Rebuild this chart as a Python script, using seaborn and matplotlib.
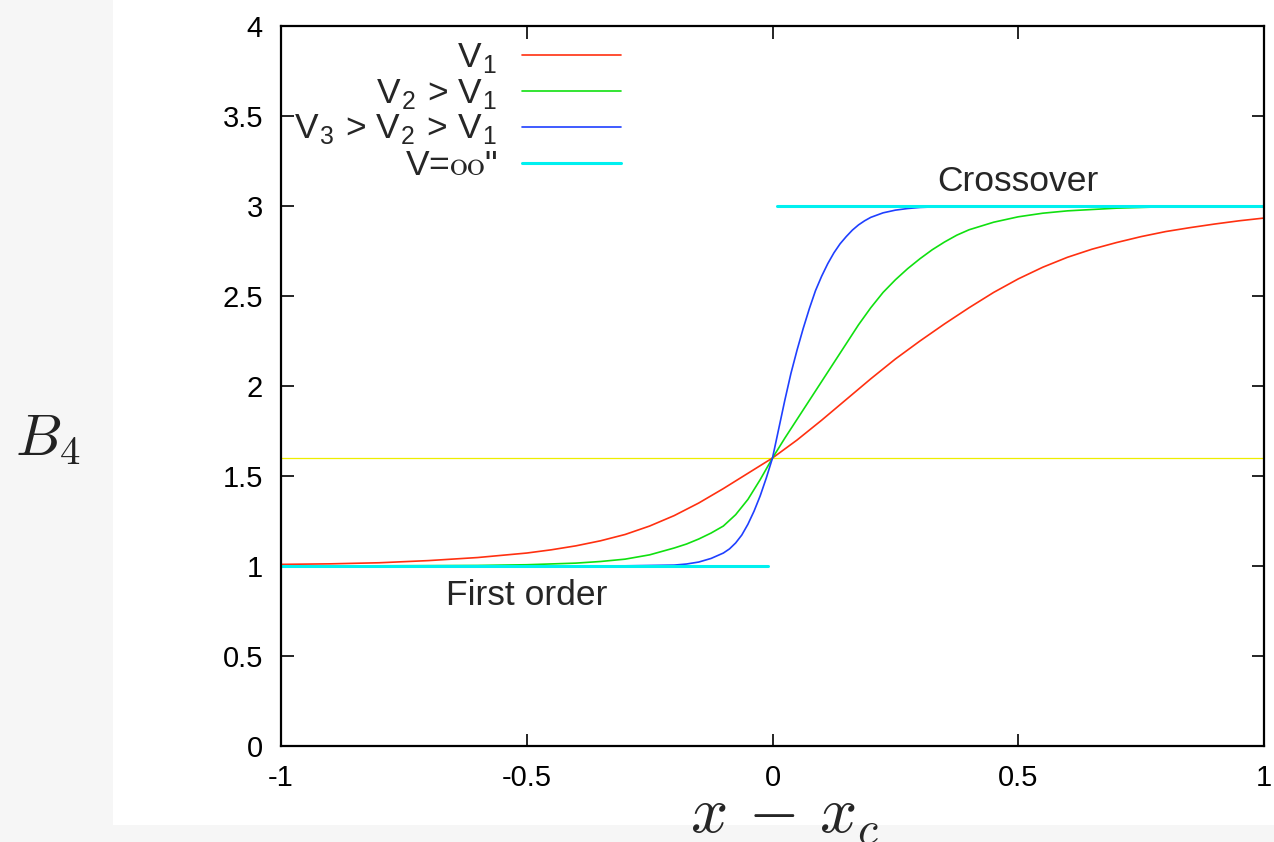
import numpy as np
import pandas as pd
import matplotlib
matplotlib.use("Agg")
import matplotlib.pyplot as plt
from matplotlib.patches import Rectangle
import seaborn as sns

# values
red_x = [-1.0, -0.9, -0.8, -0.7, -0.6, -0.5, -0.45, -0.4, -0.35, -0.3, -0.25, -0.2, -0.15, -0.1, -0.05,
         0.0, 0.05, 0.1, 0.15, 0.2, 0.25, 0.3, 0.35, 0.4, 0.45, 0.5, 0.55, 0.6, 0.65, 0.7, 0.75,
         0.8, 0.85, 0.9, 0.95, 1.0]
red_y = [1.009, 1.012, 1.018, 1.030, 1.047, 1.072, 1.09, 1.112, 1.14, 1.175, 1.222, 1.28, 1.35, 1.43, 1.515,
         1.60, 1.70, 1.81, 1.925, 2.04, 2.15, 2.25, 2.345, 2.435, 2.52, 2.595, 2.66, 2.715, 2.76, 2.797, 2.83,
         2.858, 2.88, 2.90, 2.918, 2.933]

green_x = [-1.0, -0.8, -0.6, -0.5, -0.4, -0.35, -0.3, -0.25, -0.2, -0.175, -0.15, -0.125, -0.1, -0.075,
           -0.05, -0.025, 0.0, 0.025, 0.05, 0.075, 0.1, 0.125, 0.15, 0.175, 0.2, 0.225, 0.25, 0.275,
           0.3, 0.325, 0.35, 0.375, 0.4, 0.45, 0.5, 0.55, 0.6, 0.7, 0.8, 0.9, 1.0]
green_y = [1.0, 1.001, 1.003, 1.007, 1.016, 1.025, 1.038, 1.062, 1.10, 1.122, 1.15, 1.183, 1.222, 1.285,
           1.37, 1.48, 1.60, 1.71, 1.815, 1.92, 2.025, 2.13, 2.235, 2.34, 2.435, 2.52, 2.59, 2.652,
           2.707, 2.757, 2.80, 2.838, 2.868, 2.91, 2.94, 2.96, 2.973, 2.988, 2.996, 2.999, 3.0]

blue_x = [-1.0, -0.5, -0.3, -0.2, -0.175, -0.15, -0.125, -0.1, -0.0875, -0.075, -0.0625, -0.05,
          -0.0375, -0.025, -0.0125, 0.0, 0.0125, 0.025, 0.0375, 0.05, 0.0625, 0.075, 0.0875, 0.1,
          0.1125, 0.125, 0.1375, 0.15, 0.1625, 0.175, 0.1875, 0.2, 0.225, 0.25, 0.275, 0.3, 0.35,
          0.4, 0.5, 1.0]
blue_y = [1.0, 1.0, 1.001, 1.005, 1.011, 1.022, 1.042, 1.072, 1.095, 1.128, 1.172, 1.232,
          1.305, 1.39, 1.49, 1.60, 1.76, 1.92, 2.07, 2.2, 2.32, 2.43, 2.53, 2.61,
          2.68, 2.74, 2.79, 2.83, 2.866, 2.895, 2.918, 2.937, 2.962, 2.977, 2.986, 2.992, 2.997,
          2.999, 3.0, 3.0]

inf_low_x = [-1.0, -0.01]
inf_low_y = [1.0, 1.0]
inf_high_x = [0.01, 1.0]
inf_high_y = [3.0, 3.0]

cross_x = [-1.0, 1.0]
cross_y = [1.6, 1.6]

labels = ["V$_\\mathregular{1}$",
          "V$_\\mathregular{2}$ > V$_\\mathregular{1}$",
          "V$_\\mathregular{3}$ > V$_\\mathregular{2}$ > V$_\\mathregular{1}$",
          "V=$\\mathrm{oo}$\""]

sns.set_theme(style="ticks")
plt.rcParams['font.family'] = ['Liberation Sans', 'DejaVu Sans']
plt.rcParams['mathtext.fontset'] = 'cm'
plt.rcParams['axes.unicode_minus'] = False

fig = plt.figure(figsize=(12.74, 8.42), dpi=100, facecolor='#f6f6f6')
fig.patches.append(Rectangle((113 / 1274, 17 / 842), 1, 1, transform=fig.transFigure,
                             facecolor='white', edgecolor='none', zorder=-10))
ax = fig.add_axes([281 / 1274, 96 / 842, 983 / 1274, 720 / 842])

sns.lineplot(x=cross_x, y=cross_y, ax=ax, color='#eeee00', lw=0.9, label='_nolegend_')
sns.lineplot(x=red_x, y=red_y, ax=ax, color='#ff3010', lw=1.2, label=labels[0])
sns.lineplot(x=green_x, y=green_y, ax=ax, color='#10e010', lw=1.2, label=labels[1])
sns.lineplot(x=blue_x, y=blue_y, ax=ax, color='#1f40ff', lw=1.2, label=labels[2])
sns.lineplot(x=inf_low_x, y=inf_low_y, ax=ax, color='#00f0f0', lw=2.2, label=labels[3])
sns.lineplot(x=inf_high_x, y=inf_high_y, ax=ax, color='#00f0f0', lw=2.2, label='_nolegend_')

ax.set_xlim(-1, 1)
ax.set_ylim(0, 4)
ax.set_xticks([-1, -0.5, 0, 0.5, 1])
ax.set_xticklabels(['-1', '-0.5', '0', '0.5', '1'])
ax.set_yticks([0, 0.5, 1, 1.5, 2, 2.5, 3, 3.5, 4])
ax.set_yticklabels(['0', '0.5', '1', '1.5', '2', '2.5', '3', '3.5', '4'])
ax.tick_params(direction='in', top=True, right=True, length=9, width=1.2,
               labelsize=21, pad=13, colors='black')
for s in ax.spines.values():
    s.set_linewidth(1.6)
    s.set_color('black')
ax.set_xlabel('')
ax.set_ylabel('')

ax.text(0.5, 3.135, 'Crossover', fontsize=25.5, ha='center', va='center')
ax.text(-0.5, 0.835, 'First order', fontsize=25.5, ha='center', va='center')

leg = ax.legend(loc='upper right', bbox_to_anchor=(0.346, 0.978), frameon=False,
                markerfirst=False, fontsize=25.5, handlelength=2.8, handletextpad=0.7,
                labelspacing=0.05, borderpad=0, borderaxespad=0)

fig.text(48 / 1274, 1 - 440 / 842, '$B_4$', fontsize=42, ha='center', va='center', color='#222222')
fig.text(784 / 1274, 9 / 842, '$x\\,-\\,x_c$', fontsize=47, ha='center', va='baseline')

fig.savefig('out.png', dpi=100, facecolor=fig.get_facecolor())
